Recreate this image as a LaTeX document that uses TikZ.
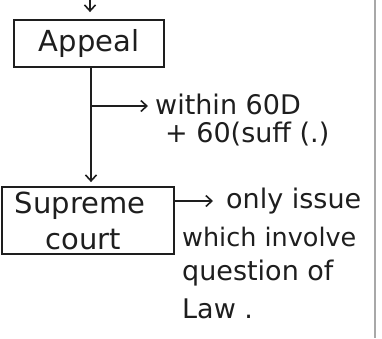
\documentclass[tikz,border=0pt]{standalone}
\usepackage{fontspec}
\setmainfont{DejaVu Sans}
\usetikzlibrary{arrows.meta}
\definecolor{ink}{HTML}{1E1E1E}
\definecolor{rule}{HTML}{A8A8A8}
\tikzset{
  box/.style={draw=ink, line width=1.8pt, inner sep=0pt},
  conn/.style={draw=ink, line width=1.8pt, -{Straight Barb[length=6pt,width=11pt,line width=1.6pt]}},
  hand/.style={text=ink, inner sep=0pt, anchor=west, font=\fontsize{27}{32}\selectfont},
  boxtxt/.style={text=ink, inner sep=0pt, font=\fontsize{29}{32}\selectfont}
}
\begin{document}
\begin{tikzpicture}[x=1pt,y=1pt]
\useasboundingbox (0,0) rectangle (382,-338);
% page rule on the right
\draw[rule, line width=1.2pt] (375,0) -- (375,-338);

% boxes
\node[box, minimum width=150pt, minimum height=47pt] (appeal) at (89,-43.5) {};
\node[boxtxt] (appealtxt) at (89,-43) {Appeal};

\node[box, minimum width=172pt, minimum height=67pt] (supreme) at (88,-220.5) {};
\node[boxtxt] (suptxt1) at (80,-206) {Supreme};
\node[boxtxt] (suptxt2) at (83,-240) {court};

% incoming arrow at top
\coordinate (topin) at (90,0);
\draw[conn, shorten >=7pt] (topin) -- (topin |- appeal.north);

% main vertical connector
\coordinate (branch) at (91,-106);
\draw[conn, shorten >=4pt] (appeal.south -| branch) -- (supreme.north -| branch);

% branch to note 1
\coordinate (n1end) at (148,-106);
\draw[conn] (branch) -- (n1end);
\node[hand] (n1a) at (155,-104) {within 60D};
\node[hand] (n1b) at (165,-134) {+ 60(suff (.)};

% arrow from supreme court to note 2
\coordinate (s2start) at (supreme.east |- 0,-201);
\coordinate (n2end) at (213,-201);
\draw[conn] (s2start) -- (n2end);
\node[hand] (n2a) at (226,-201) {only issue};
\node[hand, font=\fontsize{25.5}{30}\selectfont] (n2b) at (182,-237) {which involve};
\node[hand] (n2c) at (182,-273) {question of};
\node[hand] (n2d) at (182,-309) {Law .};
\end{tikzpicture}
\end{document}
